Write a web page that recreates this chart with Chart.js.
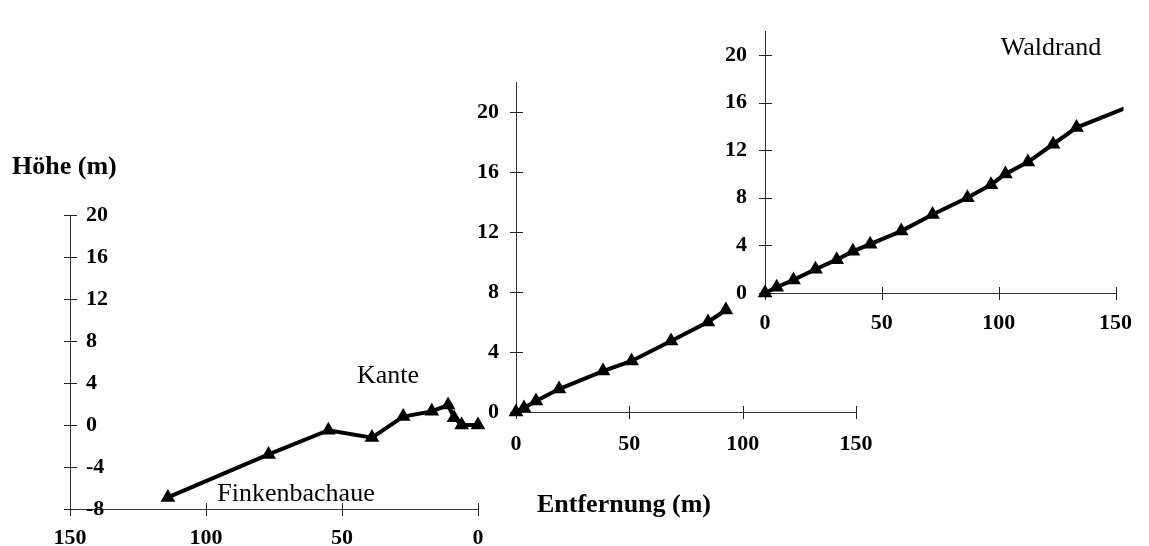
<!DOCTYPE html>
<html>
<head>
<meta charset="utf-8">
<script src="https://cdn.jsdelivr.net/npm/chart.js@4.4.0/dist/chart.umd.min.js"></script>
<style>
  html, body { margin: 0; padding: 0; background: #fff; }
  #wrap { position: relative; width: 1149px; height: 546px; overflow: hidden; }
  #wrap canvas { position: absolute; left: 0; top: 0; }
</style>
</head>
<body>
<div id="wrap">
  <canvas id="aue" width="1149" height="546"></canvas>
  <canvas id="hang" width="1149" height="546"></canvas>
  <canvas id="wald" width="1149" height="546"></canvas>
</div>
<script>
// Finkenbachaue -> Kante (Entfernung nach links gezählt)
const aueDist = [0, 6, 8.8, 11, 17, 27.5, 39, 55, 77, 114];
const aueHeight = [0, 0, 0.7, 1.9, 1.3, 0.8, -1.2, -0.5, -2.8, -6.9];

// Hang ab Kante
const hangDist = [0, 3.5, 8.8, 19, 38.4, 51, 68.4, 84.7, 92.6];
const hangHeight = [0, 0.27, 0.73, 1.53, 2.73, 3.4, 4.73, 6.0, 6.8];

// Hang bis Waldrand (letzter Punkt liegt außerhalb der Achse)
const waldDist = [0, 5, 12.2, 21.6, 30.7, 37.6, 45, 58.3, 71.7, 86.6, 96.7, 102.9, 112.5, 123.3, 133.3, 160];
const waldHeight = [0, 0.48, 1.1, 2.0, 2.8, 3.5, 4.1, 5.2, 6.6, 8.0, 9.1, 10.0, 11.0, 12.5, 13.9, 16.0];

const xTicks = [0, 50, 100, 150];
const aueYRange = [-8, 20];
const hangYRange = [0, 22];

const W = 1149, H = 546;
const tickFont = { family: "'Liberation Serif', 'Times New Roman', serif", size: 22, weight: "bold" };

// kurze Striche quer über die Achsen
const crossTicks = {
  id: "crossTicks",
  beforeDatasetsDraw(chart) {
    const ctx = chart.ctx;
    const xs = chart.scales.x;
    const ys = chart.scales.y;
    const ax = Math.round(chart.chartArea.left);
    const ay = Math.round(chart.chartArea.bottom);
    ctx.save();
    ctx.strokeStyle = "#222";
    ctx.lineWidth = 1;
    ctx.beginPath();
    ys.ticks.forEach((t) => {
      const py = Math.round(ys.getPixelForValue(t.value)) + 0.5;
      ctx.moveTo(ax - 6, py);
      ctx.lineTo(ax + 7, py);
    });
    xs.ticks.forEach((t) => {
      const px = Math.round(xs.getPixelForValue(t.value)) + 0.5;
      ctx.moveTo(px, ay - 6);
      ctx.lineTo(px, ay + 7);
    });
    ctx.stroke();
    ctx.restore();
  },
};

const labels = {
  id: "labels",
  afterDraw(chart) {
    const ctx = chart.ctx;
    ctx.save();
    ctx.fillStyle = "#000";
    ctx.textBaseline = "middle";
    ctx.textAlign = "left";
    ctx.font = "bold 26px 'Liberation Serif', serif";
    ctx.fillText("Höhe (m)", 12, 167);
    ctx.textAlign = "center";
    ctx.fillText("Entfernung (m)", 624, 505);
    ctx.font = "26px 'Liberation Serif', serif";
    ctx.fillText("Kante", 388, 376);
    ctx.fillText("Finkenbachaue", 296, 494);
    ctx.fillText("Waldrand", 1051, 48);
    ctx.restore();
  },
};

function makeChart(id, dist, height, opts) {
  const ctx = document.getElementById(id).getContext("2d");
  const area = opts.area;
  const yW = opts.mirror ? 0 : 60;
  const xH = Math.min(45, H - area[3]);
  return new Chart(ctx, {
    type: "scatter",
    data: {
      datasets: [
        {
          data: dist.map((d, i) => ({ x: d, y: height[i] })),
          showLine: true,
          borderColor: "#000",
          borderWidth: 4,
          backgroundColor: "#000",
          pointStyle: "triangle",
          pointRadius: dist.map((d) => (d > 150 ? 0 : 8.5)),
          pointBorderWidth: 0,
          clip: opts.clip,
        },
      ],
    },
    options: {
      responsive: false,
      animation: false,
      events: [],
      layout: {
        padding: {
          left: area[0] - yW,
          top: area[1],
          right: W - area[2],
          bottom: H - area[3] - xH,
        },
      },
      plugins: { legend: { display: false }, tooltip: { enabled: false } },
      scales: {
        x: {
          type: "linear",
          min: 0,
          max: 150,
          reverse: !!opts.reverse,
          afterFit: (s) => { s.height = xH; },
          afterBuildTicks: (s) => { s.ticks = xTicks.map((v) => ({ value: v })); },
          grid: { display: false, drawTicks: false },
          border: { display: true, color: "#333", width: 1 },
          ticks: { font: tickFont, color: "#000", padding: opts.xPad, maxRotation: 0, autoSkip: false },
        },
        y: {
          type: "linear",
          min: opts.yRange[0],
          max: opts.yRange[1],
          afterFit: (s) => { s.width = yW; },
          grid: { display: false, drawTicks: false },
          border: { display: true, color: "#333", width: 1 },
          ticks: {
            stepSize: 4,
            includeBounds: false,
            font: tickFont,
            color: "#000",
            padding: opts.yPad,
            mirror: !!opts.mirror,
            autoSkip: false,
          },
        },
      },
    },
    plugins: opts.extra ? [crossTicks, opts.extra] : [crossTicks],
  });
}

makeChart("aue", aueDist, aueHeight, {
  area: [70, 215, 478, 509],
  yRange: aueYRange,
  reverse: true,
  mirror: true,
  xPad: 16,
  yPad: 16,
  clip: false,
});

makeChart("hang", hangDist, hangHeight, {
  area: [516, 82, 856, 412],
  yRange: hangYRange,
  xPad: 19,
  yPad: 17,
  clip: false,
});

makeChart("wald", waldDist, waldHeight, {
  area: [765, 15, 1125, 293],
  yRange: hangYRange,
  xPad: 17,
  yPad: 18,
  clip: { left: 20, top: 20, right: 8, bottom: 20 },
  extra: labels,
});
</script>
</body>
</html>
